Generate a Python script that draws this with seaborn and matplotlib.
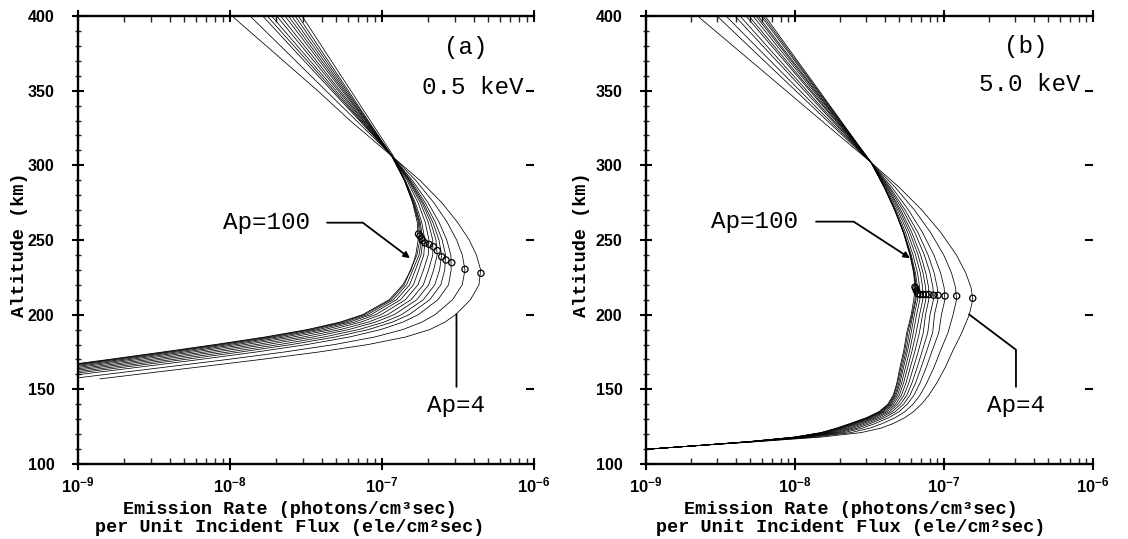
import numpy as np
import pandas as pd
import matplotlib
matplotlib.use('Agg')
import matplotlib.pyplot as plt
import seaborn as sns
from matplotlib.ticker import FixedLocator, LogLocator, NullFormatter, NullLocator, MultipleLocator

# ---- panel (a) 0.5 keV : altitude grid (km) and log10 emission rate per curve (Ap=4 ... Ap=100)
ALT_A = [400, 375, 350, 330, 307, 290, 275, 262, 250, 240, 230, 220, 210, 200, 195, 190, 185, 180, 175, 170, 165, 161, 157]
A01 = [-7.987, -7.705, -7.424, -7.210, -6.945, -6.751, -6.607, -6.504, -6.426, -6.379, -6.351, -6.362, -6.418, -6.516, -6.586, -6.686, -6.846, -7.091, -7.416, -7.796, -8.201, -8.529, -8.857]
A02 = [-7.868, -7.618, -7.369, -7.169, -6.940, -6.779, -6.659, -6.572, -6.509, -6.472, -6.454, -6.472, -6.536, -6.651, -6.738, -6.864, -7.050, -7.313, -7.642, -8.016, -8.414, -8.736, -9.057]
A03 = [-7.785, -7.558, -7.330, -7.149, -6.940, -6.801, -6.697, -6.625, -6.574, -6.547, -6.545, -6.562, -6.632, -6.761, -6.863, -7.009, -7.217, -7.494, -7.827, -8.197, -8.588, -8.905, -9.221]
A04 = [-7.755, -7.536, -7.317, -7.141, -6.940, -6.811, -6.716, -6.650, -6.604, -6.582, -6.587, -6.613, -6.686, -6.822, -6.932, -7.090, -7.310, -7.595, -7.930, -8.297, -8.685, -8.999, -9.313]
A05 = [-7.726, -7.515, -7.303, -7.134, -6.940, -6.818, -6.728, -6.666, -6.625, -6.608, -6.621, -6.653, -6.728, -6.871, -6.987, -7.154, -7.384, -7.675, -8.012, -8.377, -8.762, -9.074, -9.385]
A06 = [-7.693, -7.490, -7.288, -7.126, -6.940, -6.822, -6.737, -6.680, -6.645, -6.637, -6.660, -6.693, -6.771, -6.920, -7.043, -7.219, -7.458, -7.756, -8.094, -8.457, -8.839, -9.149, -9.458]
A07 = [-7.667, -7.471, -7.276, -7.120, -6.940, -6.828, -6.748, -6.696, -6.666, -6.666, -6.694, -6.728, -6.809, -6.963, -7.091, -7.275, -7.523, -7.826, -8.166, -8.527, -8.907, -9.214, -9.522]
A08 = [-7.638, -7.450, -7.262, -7.112, -6.940, -6.836, -6.763, -6.716, -6.691, -6.696, -6.727, -6.763, -6.846, -7.006, -7.140, -7.332, -7.588, -7.897, -8.238, -8.598, -8.975, -9.280, -9.586]
A09 = [-7.616, -7.434, -7.252, -7.107, -6.940, -6.847, -6.781, -6.739, -6.718, -6.725, -6.758, -6.793, -6.878, -7.042, -7.181, -7.380, -7.643, -7.957, -8.299, -8.658, -9.033, -9.337, -9.640]
A10 = [-7.594, -7.418, -7.242, -7.102, -6.940, -6.850, -6.788, -6.749, -6.731, -6.743, -6.780, -6.818, -6.905, -7.073, -7.216, -7.420, -7.690, -8.007, -8.351, -8.708, -9.081, -9.383, -9.686]
A11 = [-7.572, -7.402, -7.232, -7.096, -6.940, -6.852, -6.792, -6.755, -6.740, -6.756, -6.797, -6.838, -6.926, -7.097, -7.243, -7.453, -7.727, -8.048, -8.392, -8.748, -9.120, -9.421, -9.722]
A12 = [-7.551, -7.387, -7.222, -7.091, -6.940, -6.854, -6.796, -6.761, -6.751, -6.770, -6.813, -6.853, -6.942, -7.116, -7.264, -7.477, -7.754, -8.078, -8.422, -8.778, -9.149, -9.449, -9.750]
A13 = [-7.526, -7.366, -7.205, -7.077, -6.930, -6.852, -6.799, -6.768, -6.762, -6.778, -6.808, -6.863, -6.953, -7.128, -7.278, -7.493, -7.773, -8.098, -8.443, -8.798, -9.168, -9.468, -9.768]
PEAK_ALT_A = [227.7, 230.4, 234.8, 236.6, 238.8, 242.9, 245.5, 247.0, 248.0, 249.5, 251.0, 252.7, 254.0]
PEAK_LOG_A = [-6.349, -6.454, -6.541, -6.579, -6.607, -6.636, -6.662, -6.689, -6.717, -6.731, -6.740, -6.750, -6.760]

# ---- panel (b) 5.0 keV
ALT_B = [400, 375, 350, 325, 302, 285, 270, 255, 240, 228, 218, 210, 200, 188, 176, 165, 154, 146, 140, 135, 131, 127, 124, 121, 118, 115, 112, 109]
B01 = [-8.654, -8.357, -8.060, -7.764, -7.490, -7.298, -7.148, -7.021, -6.917, -6.854, -6.818, -6.807, -6.830, -6.880, -6.940, -6.990, -7.050, -7.102, -7.152, -7.205, -7.263, -7.343, -7.423, -7.558, -7.828, -8.248, -8.700, -9.120]
B02 = [-8.523, -8.260, -7.996, -7.733, -7.490, -7.325, -7.198, -7.090, -7.002, -6.950, -6.922, -6.916, -6.939, -6.973, -7.023, -7.066, -7.117, -7.162, -7.208, -7.263, -7.328, -7.416, -7.498, -7.626, -7.873, -8.263, -8.700, -9.120]
B03 = [-8.463, -8.215, -7.967, -7.719, -7.490, -7.348, -7.238, -7.144, -7.068, -7.023, -6.999, -6.994, -7.017, -7.035, -7.079, -7.118, -7.162, -7.202, -7.247, -7.302, -7.371, -7.465, -7.549, -7.671, -7.904, -8.273, -8.700, -9.120]
B04 = [-8.403, -8.170, -7.937, -7.705, -7.490, -7.361, -7.261, -7.175, -7.107, -7.066, -7.045, -7.041, -7.064, -7.076, -7.115, -7.152, -7.192, -7.229, -7.271, -7.328, -7.400, -7.497, -7.582, -7.701, -7.923, -8.280, -8.700, -9.120]
B05 = [-8.369, -8.145, -7.921, -7.697, -7.490, -7.369, -7.276, -7.196, -7.132, -7.094, -7.074, -7.071, -7.094, -7.109, -7.145, -7.179, -7.216, -7.250, -7.292, -7.349, -7.423, -7.523, -7.609, -7.725, -7.940, -8.285, -8.700, -9.120]
B06 = [-8.329, -8.115, -7.901, -7.687, -7.490, -7.377, -7.290, -7.216, -7.157, -7.122, -7.103, -7.102, -7.124, -7.139, -7.171, -7.204, -7.237, -7.269, -7.310, -7.367, -7.444, -7.546, -7.633, -7.747, -7.954, -8.290, -8.700, -9.120]
B07 = [-8.309, -8.100, -7.891, -7.682, -7.490, -7.383, -7.300, -7.230, -7.174, -7.141, -7.123, -7.122, -7.144, -7.165, -7.194, -7.225, -7.256, -7.286, -7.325, -7.384, -7.462, -7.566, -7.654, -7.766, -7.967, -8.294, -8.700, -9.120]
B08 = [-8.282, -8.080, -7.878, -7.676, -7.490, -7.389, -7.311, -7.244, -7.191, -7.159, -7.143, -7.142, -7.164, -7.187, -7.214, -7.243, -7.272, -7.300, -7.339, -7.398, -7.477, -7.584, -7.672, -7.782, -7.977, -8.298, -8.700, -9.120]
B09 = [-8.262, -8.065, -7.868, -7.671, -7.490, -7.395, -7.321, -7.258, -7.208, -7.178, -7.163, -7.162, -7.184, -7.206, -7.230, -7.258, -7.285, -7.312, -7.350, -7.409, -7.490, -7.598, -7.687, -7.796, -7.986, -8.301, -8.700, -9.120]
B10 = [-8.248, -8.055, -7.861, -7.668, -7.490, -7.399, -7.328, -7.268, -7.220, -7.192, -7.177, -7.177, -7.199, -7.220, -7.244, -7.271, -7.296, -7.322, -7.359, -7.418, -7.500, -7.610, -7.699, -7.806, -7.994, -8.303, -8.700, -9.120]
B11 = [-8.228, -8.040, -7.852, -7.663, -7.490, -7.399, -7.330, -7.271, -7.225, -7.198, -7.186, -7.188, -7.209, -7.232, -7.254, -7.280, -7.304, -7.329, -7.366, -7.425, -7.508, -7.619, -7.708, -7.815, -7.999, -8.305, -8.700, -9.120]
B12 = [-8.215, -8.030, -7.845, -7.660, -7.490, -7.399, -7.330, -7.272, -7.226, -7.201, -7.190, -7.194, -7.214, -7.243, -7.263, -7.289, -7.312, -7.336, -7.373, -7.432, -7.516, -7.627, -7.717, -7.823, -8.004, -8.307, -8.700, -9.120]
B13 = [-8.201, -8.020, -7.838, -7.657, -7.490, -7.400, -7.331, -7.273, -7.229, -7.204, -7.195, -7.203, -7.220, -7.250, -7.270, -7.295, -7.317, -7.341, -7.377, -7.437, -7.521, -7.633, -7.723, -7.828, -8.008, -8.308, -8.700, -9.120]
PEAK_ALT_B = [211.0, 212.5, 212.5, 213.0, 213.0, 213.5, 213.5, 213.5, 213.5, 214.0, 216.0, 217.5, 218.5]
PEAK_LOG_B = [-6.807, -6.915, -6.993, -7.040, -7.070, -7.100, -7.120, -7.140, -7.160, -7.175, -7.185, -7.190, -7.195]

CURVES_A = [A01, A02, A03, A04, A05, A06, A07, A08, A09, A10, A11, A12, A13]
CURVES_B = [B01, B02, B03, B04, B05, B06, B07, B08, B09, B10, B11, B12, B13]

X_TICKS = [1e-9, 1e-8, 1e-7, 1e-6]
X_TICK_LABELS = [r'$10^{-9}$', r'$10^{-8}$', r'$10^{-7}$', r'$10^{-6}$']
RIGHT_TICKS = [150, 200, 250, 300, 350]

sns.set_style('ticks')
plt.rcParams['font.family'] = ['Liberation Sans', 'DejaVu Sans']
plt.rcParams['font.weight'] = 'bold'
plt.rcParams['mathtext.fontset'] = 'custom'
plt.rcParams['mathtext.rm'] = 'Liberation Sans:bold'
plt.rcParams['mathtext.bf'] = 'Liberation Sans:bold'
plt.rcParams['mathtext.it'] = 'Liberation Sans:bold'

MONO = 'Liberation Mono'


def curves_frame(alts, curves):
    rows = []
    for k, logs in enumerate(curves):
        for z, v in zip(alts, logs):
            rows.append({'curve': k, 'alt': z, 'rate': 10.0 ** v})
    return pd.DataFrame(rows)


def draw_panel(ax, alts, curves, peak_alt, peak_log):
    ax.set_xscale('log')
    sns.lineplot(data=curves_frame(alts, curves), x='rate', y='alt', units='curve',
                 estimator=None, sort=False, color='black', lw=0.55, ax=ax, legend=False)
    peaks = pd.DataFrame({'rate': 10.0 ** np.array(peak_log), 'alt': peak_alt})
    sns.scatterplot(data=peaks, x='rate', y='alt', marker='o', s=20, color='black',
                    facecolor='none', edgecolor='black', linewidth=0.9, ax=ax, zorder=3)
    ax.set_xlim(1e-9, 1e-6)
    ax.set_ylim(100, 400)
    ax.xaxis.set_major_locator(FixedLocator(X_TICKS))
    ax.set_xticklabels(X_TICK_LABELS)
    ax.xaxis.set_minor_locator(LogLocator(base=10, subs=np.arange(2, 10)))
    ax.xaxis.set_minor_formatter(NullFormatter())
    ax.yaxis.set_major_locator(MultipleLocator(50))
    ax.yaxis.set_minor_locator(MultipleLocator(10))
    ax.tick_params(axis='x', which='major', direction='inout', length=8, width=1.5,
                   top=True, labelsize=12, pad=4, colors='black')
    ax.tick_params(axis='x', which='minor', direction='in', length=4, width=1.0, top=True)
    ax.tick_params(axis='y', which='major', direction='inout', length=8, width=1.5,
                   right=False, labelsize=11.5, pad=13, colors='black')
    ax.tick_params(axis='y', which='minor', direction='inout', length=4, width=1.0, right=False)
    ax.spines['right'].set_visible(False)
    for side in ['left', 'bottom', 'top']:
        ax.spines[side].set_linewidth(1.7)
        ax.spines[side].set_color('black')
    ax.set_xlabel('')
    ax.set_ylabel('')
    # right side: only short inward dashes at the major altitudes, no spine
    sec = ax.secondary_yaxis('right')
    sec.set_yticks(RIGHT_TICKS)
    sec.yaxis.set_minor_locator(NullLocator())
    sec.tick_params(axis='y', direction='in', length=6, width=1.5, labelright=False, colors='black')
    for sp in sec.spines.values():
        sp.set_visible(False)


fig = plt.figure(figsize=(11.28, 5.39), dpi=100)
ax_a = fig.add_axes([78 / 1128, 75 / 539, 456 / 1128, 448 / 539])
ax_b = fig.add_axes([646 / 1128, 75 / 539, 447 / 1128, 448 / 539])

draw_panel(ax_a, ALT_A, CURVES_A, PEAK_ALT_A, PEAK_LOG_A)
draw_panel(ax_b, ALT_B, CURVES_B, PEAK_ALT_B, PEAK_LOG_B)

txt = dict(fontfamily=MONO, fontweight='normal', fontsize=17.5, color='black')

# panel (a) annotations
ax_a.text(0.851, 0.929, '(a)', transform=ax_a.transAxes, ha='center', va='center', **txt)
ax_a.text(0.976, 0.84, '0.5 keV', transform=ax_a.transAxes, ha='right', va='center', **txt)
ax_a.annotate('Ap=100', xy=(10 ** -6.816, 237.8), xytext=(10 ** -7.474, 261.6),
              ha='right', va='center',
              arrowprops=dict(arrowstyle='-|>', connectionstyle='angle,angleA=0,angleB=-37,rad=0',
                              shrinkA=10, shrinkB=0, lw=1.3, color='black', mutation_scale=9),
              **txt)
ax_a.annotate('Ap=4', xy=(10 ** -6.51, 200.5), xytext=(10 ** -6.51, 139),
              ha='center', va='center',
              arrowprops=dict(arrowstyle='-', shrinkA=3, shrinkB=0, lw=1.3, color='black'),
              **txt)

# panel (b) annotations
ax_b.text(0.85, 0.933, '(b)', transform=ax_b.transAxes, ha='center', va='center', **txt)
ax_b.text(0.971, 0.848, '5.0 keV', transform=ax_b.transAxes, ha='right', va='center', **txt)
ax_b.annotate('Ap=100', xy=(10 ** -7.228, 237.8), xytext=(10 ** -7.983, 262.3),
              ha='right', va='center',
              arrowprops=dict(arrowstyle='-|>', connectionstyle='angle,angleA=0,angleB=-33,rad=0',
                              shrinkA=11, shrinkB=0, lw=1.3, color='black', mutation_scale=9),
              **txt)
ax_b.annotate('Ap=4', xy=(10 ** -6.832, 200.2), xytext=(10 ** -6.517, 139),
              ha='center', va='center',
              arrowprops=dict(arrowstyle='-', connectionstyle='angle,angleA=90,angleB=-37,rad=0',
                              shrinkA=3, shrinkB=0, lw=1.3, color='black'),
              **txt)

# axis titles
lab = dict(fontfamily=MONO, fontweight='bold', fontsize=13.3, color='black', ha='center', va='center')
for xc in (290, 851):
    fig.text(xc / 1128, 1 - 509 / 539, 'Emission Rate (photons/cm³sec)', **lab)
    fig.text(xc / 1128, 1 - 528 / 539, 'per Unit Incident Flux (ele/cm²sec)', **lab)
for xc in (20, 581):
    fig.text(xc / 1128, 1 - 245 / 539, 'Altitude (km)', rotation=90, **lab)

fig.savefig('out.png', dpi=100, facecolor='white')
